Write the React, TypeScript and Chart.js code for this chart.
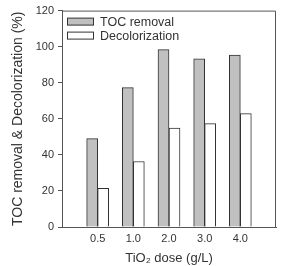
import React, { useEffect, useRef } from "react";
import { Chart, registerables } from "chart.js";

Chart.register(...registerables);

const categories = ["", "0.5", "1.0", "2.0", "3.0", "4.0", ""];
const tocRemoval = [null, 49, 77.3, 98.4, 93.3, 95.3, null];
const decolorization = [null, 21.4, 36.3, 54.8, 57.3, 62.9, null];
const yTicks = [0, 20, 40, 60, 80, 100, 120];
const seriesNames = ["TOC removal", "Decolorization"];

const FONT = "'Liberation Sans', Arial, Helvetica, sans-serif";
const TEXT = "#333";
const LINE = "#555";
const GRAY = "#c0c0c0";
const EDGE = "#333";

const framePlugin = {
  id: "frameLegend",
  afterDraw(chart: any) {
    const { ctx, chartArea } = chart;
    const { left, right, top, bottom } = chartArea;
    ctx.save();
    ctx.strokeStyle = LINE;
    ctx.lineWidth = 1;
    ctx.beginPath();
    ctx.moveTo(left, top + 0.5);
    ctx.lineTo(right - 0.5, top + 0.5);
    ctx.lineTo(right - 0.5, bottom);
    ctx.stroke();
    // legend
    const fills = [GRAY, "#ffffff"];
    ctx.font = `12.5px ${FONT}`;
    ctx.textBaseline = "middle";
    ctx.textAlign = "left";
    seriesNames.forEach((name, i) => {
      const y = top + 11 + i * 14;
      ctx.fillStyle = fills[i];
      ctx.fillRect(left + 5, y - 3.5, 26, 7);
      ctx.strokeStyle = EDGE;
      ctx.strokeRect(left + 5.5, y - 3.5, 26, 7);
      ctx.fillStyle = TEXT;
      ctx.fillText(name, left + 38, y + 0.5);
    });
    ctx.restore();
  },
};

export default function App() {
  const ref = useRef<HTMLCanvasElement>(null);
  useEffect(() => {
    const chart = new Chart(ref.current!, {
      type: "bar",
      data: {
        labels: categories,
        datasets: [
          {
            label: seriesNames[0],
            data: tocRemoval,
            backgroundColor: GRAY,
            borderColor: EDGE,
            borderWidth: 1,
            barThickness: 11,
          },
          {
            label: seriesNames[1],
            data: decolorization,
            backgroundColor: "#ffffff",
            borderColor: EDGE,
            borderWidth: 1,
            barThickness: 11,
          },
        ],
      },
      options: {
        animation: false,
        responsive: false,
        maintainAspectRatio: false,
        layout: { padding: { top: 10, right: 3, left: 0, bottom: 0 } },
        plugins: { legend: { display: false }, tooltip: { enabled: false } },
        scales: {
          x: {
            type: "category",
            offset: false,
            grid: { display: false, drawTicks: false, tickLength: 0 },
            border: { display: true, color: LINE, width: 1 },
            ticks: {
              color: TEXT,
              font: { family: FONT, size: 11 },
              padding: 5,
              autoSkip: false,
              maxRotation: 0,
            },
            title: {
              display: true,
              text: "TiO₂ dose (g/L)",
              color: TEXT,
              font: { family: FONT, size: 13 },
              padding: { top: 5, bottom: 0 },
            },
            afterFit(scale: any) {
              scale.height = 39;
            },
          },
          y: {
            min: 0,
            max: 120,
            afterBuildTicks(scale: any) {
              scale.ticks = yTicks.map((v) => ({ value: v }));
            },
            grid: {
              display: true,
              drawOnChartArea: false,
              drawTicks: true,
              tickLength: 4,
              color: LINE,
            },
            border: { display: true, color: LINE, width: 1 },
            ticks: {
              color: TEXT,
              font: { family: FONT, size: 11 },
              padding: 4,
            },
            title: {
              display: true,
              text: "TOC removal & Decolorization (%)",
              color: TEXT,
              font: { family: FONT, size: 14 },
              padding: { top: 10, bottom: 0 },
            },
            afterFit(scale: any) {
              scale.width = 62;
            },
          },
        },
      },
      plugins: [framePlugin],
    } as any);
    return () => chart.destroy();
  }, []);
  return (
    <div style={{ position: "fixed", left: 0, top: 0, width: 281, height: 266, background: "#fff" }}>
      <canvas ref={ref} width={281} height={266} style={{ width: 281, height: 266 }} />
    </div>
  );
}
